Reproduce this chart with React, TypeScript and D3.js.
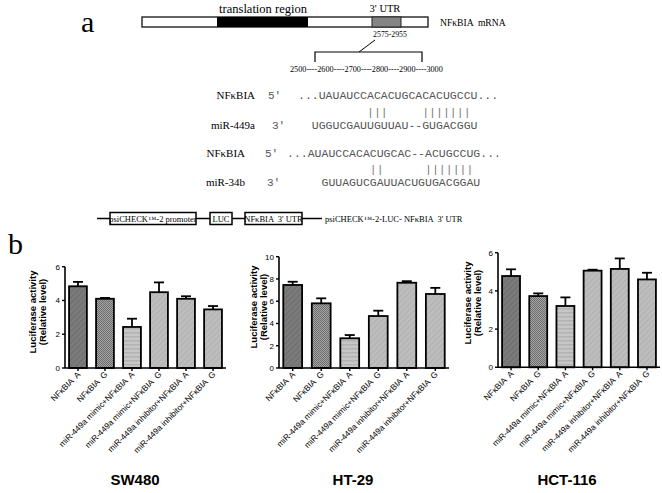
import React from 'react';
import * as d3 from 'd3';

// ---- data ----
const groups = [
  'NFκBIA  A',
  'NFκBIA  G',
  'miR-449a mimic+NFκBIA  A',
  'miR-449a mimic+NFκBIA  G',
  'miR-449a inhibitor+NFκBIA  A',
  'miR-449a inhibitor+NFκBIA  G',
];
const cellLines = ['SW480', 'HT-29', 'HCT-116'];
const sw480Values = [4.84, 4.1, 2.43, 4.49, 4.1, 3.47];
const sw480Errors = [0.26, 0.05, 0.49, 0.58, 0.15, 0.2];
const ht29Values = [7.46, 5.81, 2.67, 4.67, 7.66, 6.65];
const ht29Errors = [0.29, 0.45, 0.29, 0.48, 0.14, 0.55];
const hct116Values = [4.78, 3.73, 3.21, 5.06, 5.15, 4.6];
const hct116Errors = [0.35, 0.14, 0.45, 0.05, 0.55, 0.35];
const yMaxes = [6, 10, 6];
const yTicks = [[0, 2, 4, 6], [0, 2, 4, 6, 8, 10], [0, 2, 4, 6]];
const yTitle = ['Luciferase activity', '(Relative level)'];

const positionLabels = '2500----2600----2700----2800----2900----3000';
const seqRows = [
  { name: 'NFκBIA', end: "5'", seq: '...UAUAUCCACACUGCACACUGCCU...', bars: '          |||     |||||||' },
  { name: 'miR-449a', end: "3'", seq: '  UGGUCGAUUGUUAU--GUGACGGU' },
  { name: 'NFκBIA', end: "5'", seq: '...AUAUCCACACUGCAC--ACUGCCUG...', bars: '            ||      |||||||' },
  { name: 'miR-34b', end: "3'", seq: '     GUUAGUCGAUUACUGUGACGGAU' },
];
const constructParts = ['psiCHECK™-2 promoter', 'LUC', 'NFκBIA  3\' UTR'];

const panelValues = [sw480Values, ht29Values, hct116Values];
const panelErrors = [sw480Errors, ht29Errors, hct116Errors];

// ---- layout ----
const SERIF = '"Liberation Serif", "Times New Roman", serif';
const SANS = '"Liberation Sans", Arial, sans-serif';
const MONO = '"Liberation Mono", "Courier New", monospace';

const panelLayout = [
  { x0: 65, w: 161, y0: 368, y1: 266.7, tx: 32, ty: 312, titleX: 135 },
  { x0: 279, w: 170, y0: 368, y1: 256.7, tx: 253, ty: 307, titleX: 353 },
  { x0: 498, w: 162, y0: 367.3, y1: 252.7, tx: 467, ty: 303, titleX: 567 },
];
const fills = ['url(#pDark)', 'url(#pCheck)', 'url(#pHoriz)', 'url(#pDiag)', 'url(#pDiag)', 'url(#pDiag)'];

function Panel({ idx }: { idx: number }) {
  const L = panelLayout[idx];
  const values = panelValues[idx];
  const errors = panelErrors[idx];
  const x = d3.scaleBand().domain(groups).range([L.x0, L.x0 + L.w]).paddingInner(0.34).paddingOuter(0.15);
  const y = d3.scaleLinear().domain([0, yMaxes[idx]]).range([L.y0, L.y1]);
  const bw = x.bandwidth();
  return (
    <g>
      {groups.map((g, i) => {
        const bx = x(g)!;
        const top = y(values[i]);
        const eTop = y(values[i] + errors[i]);
        const cx = bx + bw / 2;
        return (
          <g key={g}>
            <line x1={cx} x2={cx} y1={top} y2={eTop} stroke="#000" strokeWidth={1.8} />
            <line x1={cx - 5} x2={cx + 5} y1={eTop} y2={eTop} stroke="#000" strokeWidth={1.8} />
            <rect x={bx} y={top} width={bw} height={L.y0 - top} fill={fills[i]} stroke="#000" strokeWidth={1.8} />
          </g>
        );
      })}
      {/* axes */}
      <line x1={L.x0} x2={L.x0} y1={L.y0} y2={L.y1} stroke="#000" strokeWidth={1.6} />
      <line x1={L.x0} x2={L.x0 + L.w} y1={L.y0} y2={L.y0} stroke="#000" strokeWidth={1.6} />
      {yTicks[idx].map((t) => (
        <g key={t}>
          <line x1={L.x0 - 3} x2={L.x0} y1={y(t)} y2={y(t)} stroke="#000" strokeWidth={1.4} />
          <text x={L.x0 - 5} y={y(t) + 3} textAnchor="end" fontSize={8} fontFamily={SANS}>{t}</text>
        </g>
      ))}
      {groups.map((g) => {
        const cx = x(g)! + bw / 2;
        return (
          <g key={g}>
            <line x1={cx} x2={cx} y1={L.y0} y2={L.y0 + 3} stroke="#000" strokeWidth={1.4} />
            <text transform={`translate(${cx + 3},${L.y0 + 7}) rotate(-45)`} textAnchor="end" fontSize={8.3} fontFamily={SANS} style={{ whiteSpace: 'pre' }}>{g}</text>
          </g>
        );
      })}
      {yTitle.map((t, k) => (
        <text key={t} transform={`translate(${L.tx + 4 + k * 10},${L.ty}) rotate(-90)`} textAnchor="middle" fontSize={9.5} fontWeight="bold" fontFamily={SANS}>{t}</text>
      ))}
      <text x={L.titleX} y={485} textAnchor="middle" fontSize={15} fontWeight="bold" fontFamily={SANS}>{cellLines[idx]}</text>
    </g>
  );
}

export default function App() {
  const seqX = 298;
  const seqX2 = 287;
  const rowY = [99, 129, 157, 186];
  const barY = [116, 0, 173, 0];
  const labelEnd = [255, 255, 245, 245];
  const endX = [268, 272, 265, 267];

  // construct boxes
  const boxes = [
    { x: 110, w: 86 },
    { x: 210, w: 22 },
    { x: 245, w: 57 },
  ];

  return (
    <svg width={662} height={493} style={{ position: 'absolute', left: 0, top: 0, background: '#fff' }}>
      <defs>
        <pattern id="pDark" width={4} height={4} patternUnits="userSpaceOnUse" patternTransform="rotate(45)">
          <rect width={4} height={4} fill="#7b7b7b" />
          <rect width={1} height={4} fill="#6c6c6c" />
        </pattern>
        <pattern id="pCheck" width={2} height={2} patternUnits="userSpaceOnUse">
          <rect width={2} height={2} fill="#a4a4a4" />
          <rect width={1} height={1} fill="#6e6e6e" />
          <rect x={1} y={1} width={1} height={1} fill="#6e6e6e" />
        </pattern>
        <pattern id="pHoriz" width={4} height={4} patternUnits="userSpaceOnUse">
          <rect width={4} height={4} fill="#c6c6c6" />
          <rect width={4} height={1.5} fill="#b2b2b2" />
        </pattern>
        <pattern id="pDiag" width={4} height={4} patternUnits="userSpaceOnUse" patternTransform="rotate(45)">
          <rect width={4} height={4} fill="#bdbdbd" />
          <rect width={1} height={4} fill="#b0b0b0" />
        </pattern>
      </defs>

      {/* panel a */}
      <text x={81} y={32} fontSize={30} fontFamily={SERIF}>a</text>
      <rect x={142} y={17} width={286} height={10} fill="#fff" stroke="#222" strokeWidth={1.4} />
      <rect x={217} y={17} width={91} height={10} fill="#000" />
      <rect x={372} y={17} width={29} height={10} fill="#858585" stroke="#222" strokeWidth={1} />
      <text x={263} y={13} textAnchor="middle" fontSize={12.5} fontFamily={SERIF}>translation region</text>
      <text x={385} y={12} textAnchor="middle" fontSize={10.5} fontFamily={SERIF}>3' UTR</text>
      <text x={440} y={26} fontSize={9.6} fontFamily={SERIF} style={{ whiteSpace: 'pre' }}>NFκBIA  mRNA</text>
      <text x={390} y={37} textAnchor="middle" fontSize={7.8} fontFamily={SERIF}>2575-2955</text>
      <line x1={375} y1={40} x2={359} y2={52} stroke="#000" strokeWidth={1} />
      <path d="M315,62 V52 H422 V62" fill="none" stroke="#000" strokeWidth={1.2} />
      <text x={290} y={72} fontSize={8.2} fontFamily={SERIF}>{positionLabels}</text>

      {seqRows.map((r, i) => (
        <g key={i}>
          <text x={labelEnd[i]} y={rowY[i]} textAnchor="end" fontSize={11} fontFamily={SERIF}>{r.name}</text>
          <text x={endX[i]} y={rowY[i]} fontSize={11} fontFamily={MONO} fill="#555">{r.end}</text>
          <text x={i < 2 ? seqX : seqX2} y={rowY[i]} fontSize={11.5} fontFamily={MONO} fill="#555" style={{ whiteSpace: 'pre' }}>{r.seq}</text>
          {r.bars && (
            <text x={i < 2 ? seqX : seqX2} y={barY[i]} fontSize={11.5} fontFamily={MONO} fill="#777" style={{ whiteSpace: 'pre' }}>{r.bars}</text>
          )}
        </g>
      ))}

      {/* construct */}
      <line x1={97} x2={322} y1={218.5} y2={218.5} stroke="#000" strokeWidth={1.3} />
      {boxes.map((b, i) => (
        <g key={i}>
          <rect x={b.x} y={212.5} width={b.w} height={12} fill="#fff" stroke="#000" strokeWidth={1.5} />
          <text x={b.x + b.w / 2} y={221.5} textAnchor="middle" fontSize={8.5} fontFamily={SERIF} style={{ whiteSpace: 'pre' }}>{constructParts[i]}</text>
        </g>
      ))}
      <text x={325} y={221.5} fontSize={8.5} fontFamily={SERIF} style={{ whiteSpace: 'pre' }}>psiCHECK™-2-LUC- NFκBIA  3' UTR</text>

      {/* panel b */}
      <text x={8} y={254} fontSize={30} fontFamily={SERIF}>b</text>
      {cellLines.map((c, i) => (
        <Panel key={c} idx={i} />
      ))}
    </svg>
  );
}
